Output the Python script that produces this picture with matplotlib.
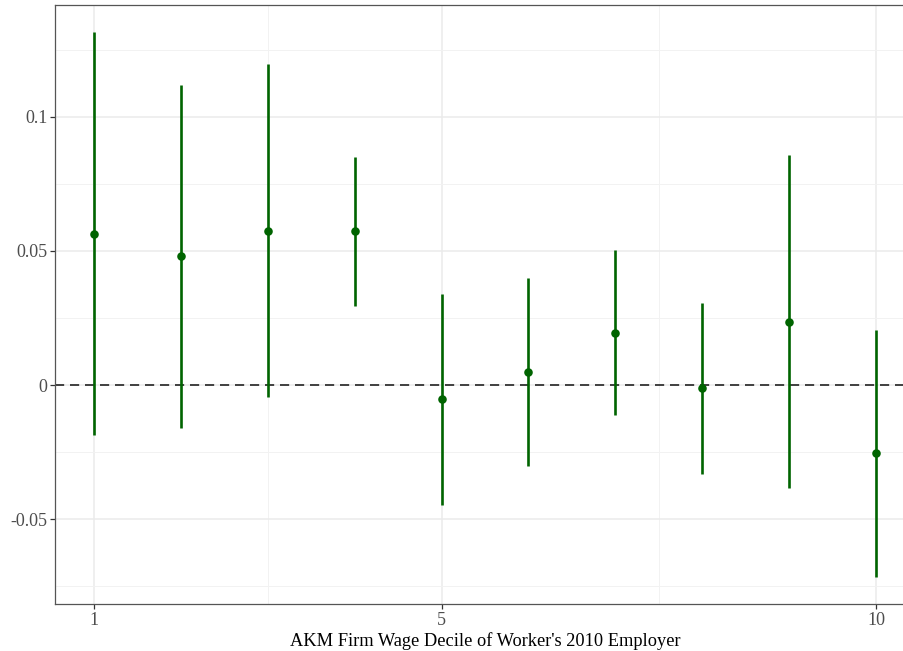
import matplotlib
matplotlib.use("Agg")
import matplotlib.pyplot as plt
from matplotlib.ticker import FixedLocator
import numpy as np

deciles = [1, 2, 3, 4, 5, 6, 7, 8, 9, 10]
estimate = [0.0564, 0.0480, 0.0575, 0.0573, -0.0053, 0.0050, 0.0195, -0.0011, 0.0237, -0.0253]
ci_low = [-0.0185, -0.0158, -0.0046, 0.0294, -0.0446, -0.0303, -0.0110, -0.0332, -0.0382, -0.0714]
ci_high = [0.1315, 0.1118, 0.1195, 0.0851, 0.0338, 0.0401, 0.0502, 0.0307, 0.0857, 0.0206]
xticks = [1, 5, 10]
xminor = [3, 7.5]
yticks = [-0.05, 0, 0.05, 0.1]
ytick_labels = ["-0.05", "0", "0.05", "0.1"]
yminor = [-0.075, -0.025, 0.025, 0.075, 0.125]
xlabel = "AKM Firm Wage Decile of Worker's 2010 Employer"

plt.rcParams['font.family'] = ['Liberation Serif', 'DejaVu Serif']

W, H = 904, 651
fig = plt.figure(figsize=(W / 100, H / 100), dpi=100)
left, right, top, bottom = 55, 915, 5, 604
ax = fig.add_axes([left / W, 1 - bottom / H, (right - left) / W, (bottom - top) / H])

green = "#006400"
ax.vlines(deciles, ci_low, ci_high, color=green, linewidth=1.9, zorder=3)
ax.scatter(deciles, estimate, s=38, color=green, zorder=4, linewidths=0)
ax.axhline(0, color="#222222", linestyle=(0, (5.5, 3.5)), linewidth=1.2, zorder=2)

rng = max(ci_high) - min(ci_low)
ax.set_ylim(min(ci_low) - 0.05 * rng, max(ci_high) + 0.05 * rng)
ax.set_xlim(1 - 0.45, 10 + 0.45)

ax.set_xticks(xticks)
ax.set_xticklabels([str(t) for t in xticks])
ax.set_yticks(yticks)
ax.set_yticklabels(ytick_labels)
ax.xaxis.set_minor_locator(FixedLocator(xminor))
ax.yaxis.set_minor_locator(FixedLocator(yminor))

ax.grid(which="major", color="#EBEBEB", linewidth=1.1, zorder=0)
ax.grid(which="minor", color="#F2F2F2", linewidth=0.7, zorder=0)
ax.set_axisbelow(True)

for s in ax.spines.values():
    s.set_color("#555555")
    s.set_linewidth(0.9)

ax.tick_params(which="major", length=3.5, width=0.9, color="#333333",
               labelsize=13, labelcolor="#4D4D4D", pad=2)
ax.tick_params(which="minor", length=0)
ax.set_xlabel(xlabel, fontsize=13.2, color="black", labelpad=2.5)

fig.savefig("out.png", dpi=100)
